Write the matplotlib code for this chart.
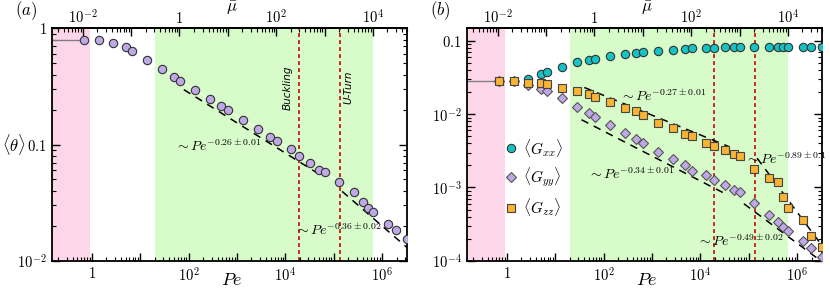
import numpy as np
import matplotlib
matplotlib.use("Agg")
import matplotlib.pyplot as plt
from matplotlib.ticker import LogLocator, FuncFormatter, NullFormatter

plt.rcParams['mathtext.fontset'] = 'cm'
plt.rcParams['font.family'] = 'serif'
plt.rcParams['font.serif'] = ['DejaVu Serif']

# Data
pe = [0.70, 1.42, 2.8, 5.05, 6.9, 13.7, 28.5, 49, 68, 135, 276, 473, 640, 1350, 2720,
      4730, 6740, 13300, 19700, 32900, 51000, 65000, 131000, 259000, 398000, 521000,
      652000, 1.31e6, 1.98e6, 3.3e6]
theta = [0.80, 0.79, 0.75, 0.686, 0.634, 0.53, 0.443, 0.383, 0.351, 0.296, 0.246, 0.215,
         0.198, 0.164, 0.136, 0.117, 0.107, 0.0906, 0.0793, 0.069, 0.0608, 0.0577, 0.048,
         0.0394, 0.0323, 0.0286, 0.0264, 0.0207, 0.0182, 0.0155]
gxx = [0.0285, 0.0285, 0.0303, 0.0352, 0.0375, 0.0447, 0.0513, 0.0552, 0.0575, 0.0632,
       0.0673, 0.0695, 0.0703, 0.0733, 0.0748, 0.078, 0.0805, 0.0805, 0.080, 0.0822,
       0.0822, 0.0822, 0.083, 0.083, 0.083, 0.0838, 0.0838, 0.0838, 0.0838, 0.0838]
gyy = [0.0285, 0.0285, 0.0251, 0.022, 0.0208, 0.01655, 0.0127, 0.01052, 0.0091, 0.00714,
       0.0055, 0.00464, 0.0041, 0.00308, 0.00243, 0.00203, 0.00168, 0.00148, 0.00127,
       0.00108, 0.000924, 0.00086, 0.00062, 0.00042, 0.00034, 0.000291, 0.000257,
       0.000188, 0.000151, 0.000113]
gzz = [0.0285, 0.0285, 0.027, 0.0265, 0.0257, 0.0231, 0.0208, 0.01875, 0.0174, 0.01485,
       0.0123, 0.0111, 0.0099, 0.00768, 0.00644, 0.00538, 0.00505, 0.00402, 0.00369,
       0.0032, 0.00287, 0.00269, 0.00177, 0.00136, 0.0012, 0.000749, 0.00053, 0.00036,
       0.000217, 0.000155]

# power-law fits: (log10 prefactor, exponent, Pe start, Pe end)
fits_a = [(-0.033, -0.26, 80, 6e4), (0.46, -0.36, 1.5e5, 3.3e6)]
fits_b = [(-1.202, -0.27, 40, 4e4), (2.007, -0.89, 1.5e5, 3.3e6),
          (-1.55, -0.34, 35, 3e4), (-0.82, -0.49, 8e4, 3.3e6)]

pe_lim = (0.148, 3.25e6)
pink = (pe_lim[0], 0.92)
green = (20.4, 6.6e5)
transitions = [1.97e4, 1.33e5]
mu_factor = 65.0

purple = '#bfa8e6'
teal = '#17c2c4'
orange = '#f8b432'
red = '#c62a1d'


def even_fmt(v, pos):
    e = int(round(np.log10(v)))
    if e % 2:
        return ''
    if e == 0:
        return '$1$'
    return '$10^{%d}$' % e


def style_axes(ax, ylim, yticks, ylabels):
    ax.set_xscale('log')
    ax.set_yscale('log')
    ax.set_xlim(*pe_lim)
    ax.set_ylim(*ylim)
    ax.axvspan(*pink, color='#fdd6e9', lw=0, zorder=0)
    ax.axvspan(*green, color='#d7fbc9', lw=0, zorder=0)
    for t in transitions:
        ax.axvline(t, color=red, lw=1.4, ls=(0, (2, 1.6)), zorder=1)
    ax.xaxis.set_major_locator(LogLocator(base=10, numticks=20))
    ax.xaxis.set_minor_locator(LogLocator(base=10, subs=np.arange(2, 10), numticks=20))
    ax.xaxis.set_major_formatter(FuncFormatter(even_fmt))
    ax.xaxis.set_minor_formatter(NullFormatter())
    ax.set_yticks(yticks)
    ax.set_yticklabels(ylabels)
    ax.yaxis.set_minor_formatter(NullFormatter())
    ax.tick_params(which='both', direction='in', top=False, right=True, labelsize=10.5)
    ax.tick_params(which='major', length=6, width=1)
    ax.tick_params(which='minor', length=3, width=0.8)
    for s in ax.spines.values():
        s.set_linewidth(1.3)
    sec = ax.secondary_xaxis('top', functions=(lambda x: x / mu_factor, lambda x: x * mu_factor))
    sec.xaxis.set_major_locator(LogLocator(base=10, numticks=20))
    sec.xaxis.set_minor_locator(LogLocator(base=10, subs=np.arange(2, 10), numticks=20))
    sec.xaxis.set_major_formatter(FuncFormatter(even_fmt))
    sec.xaxis.set_minor_formatter(NullFormatter())
    sec.tick_params(which='both', direction='in', labelsize=10.5, pad=2)
    sec.tick_params(which='major', length=6, width=1)
    sec.tick_params(which='minor', length=3, width=0.8)
    sec.spines['top'].set_linewidth(1.3)
    sec.set_xlabel(r'$\bar{\mu}$', fontsize=12, va='center')
    sec.xaxis.set_label_coords(0.508, 1.088, transform=ax.transAxes)
    ax.set_xlabel(r'$Pe$', fontsize=13, va='center')
    ax.xaxis.set_label_coords(0.508, -0.083)
    return sec


def draw_fit(ax, fit):
    loga, expo, p0, p1 = fit
    x = np.logspace(np.log10(p0), np.log10(p1), 50)
    ax.plot(x, 10 ** loga * x ** expo, color='black', lw=1.1, ls=(0, (5, 4)), zorder=2)


fig = plt.figure(figsize=(8.3, 2.91), dpi=100)
ax1 = fig.add_axes([0.0623, 0.1041, 0.4277, 0.7986])
ax2 = fig.add_axes([0.5623, 0.1041, 0.4277, 0.7986])

# (a)
style_axes(ax1, (0.01, 1), [1, 0.1, 0.01], ['$1$', '$0.1$', '$10^{-2}$'])
ax1.hlines(theta[0], pe_lim[0], pe[0], color='gray', lw=1, zorder=2)
ax1.plot(pe, theta, color='white', lw=0.6, zorder=2)
for f in fits_a:
    draw_fit(ax1, f)
ax1.plot(pe, theta, 'o', ms=6, mfc=purple, mec='#333333', mew=0.8, ls='none', zorder=3)
ax1.set_ylabel(r'$\langle\theta\rangle$', fontsize=12, rotation=0, ha='center', va='center')
ax1.yaxis.set_label_coords(-0.105, 0.5)
ax1.text(53, 0.0948, r'$\sim Pe^{-0.26\pm0.01}$', fontsize=10, va='center', ha='left', zorder=4)
ax1.text(1.61e4, 0.0182, r'$\sim Pe^{-0.36\pm0.02}$', fontsize=10, va='center', ha='left', zorder=4)
ax1.text(1.1e4, 0.31, 'Buckling', rotation=90, style='italic', fontsize=7.5,
         family=['Liberation Sans Narrow', 'DejaVu Sans'], ha='center', va='center')
ax1.text(2.0e5, 0.31, 'U-Turn', rotation=90, style='italic', fontsize=7.5,
         family=['Liberation Sans Narrow', 'DejaVu Sans'], ha='center', va='center')
fig.text(0.018, 0.965, '$(a)$', fontsize=12, va='center')

# (b)
style_axes(ax2, (1e-4, 0.149), [0.1, 0.01, 0.001, 0.0001],
           ['$0.1$', '$10^{-2}$', '$10^{-3}$', '$10^{-4}$'])
ax2.hlines(gxx[0], pe_lim[0], pe[0], color='gray', lw=1, zorder=2)
for f in fits_b:
    draw_fit(ax2, f)
ax2.plot(pe, gxx, 'o', ms=6, mfc=teal, mec='#333333', mew=0.8, ls='none', zorder=3,
         label=r'$\langle G_{xx}\rangle$')
ax2.plot(pe, gyy, 'D', ms=5.5, mfc=purple, mec='#555555', mew=0.8, ls='none', zorder=3,
         label=r'$\langle G_{yy}\rangle$')
ax2.plot(pe, gzz, 's', ms=5.5, mfc=orange, mec='#444444', mew=0.8, ls='none', zorder=3,
         label=r'$\langle G_{zz}\rangle$')
ax2.legend(loc='upper left', bbox_to_anchor=(0.09, 0.56), frameon=False, fontsize=11,
           handlelength=0.8, handletextpad=0.4, labelspacing=0.45, borderaxespad=0)
ax2.text(221, 0.0172, r'$\sim Pe^{-0.27\pm0.01}$', fontsize=10, va='center', ha='left', zorder=4)
ax2.text(48, 0.00148, r'$\sim Pe^{-0.34\pm0.01}$', fontsize=10, va='center', ha='left', zorder=4)
ax2.text(8.5e4, 0.00238, r'$\sim Pe^{-0.89\pm0.1}$', fontsize=10, va='center', ha='left',
         zorder=4, clip_on=False)
ax2.text(8700, 0.00018, r'$\sim Pe^{-0.49\pm0.02}$', fontsize=10, va='center', ha='left', zorder=4)
fig.text(0.518, 0.965, '$(b)$', fontsize=12, va='center')

fig.savefig('out.png', dpi=100)
